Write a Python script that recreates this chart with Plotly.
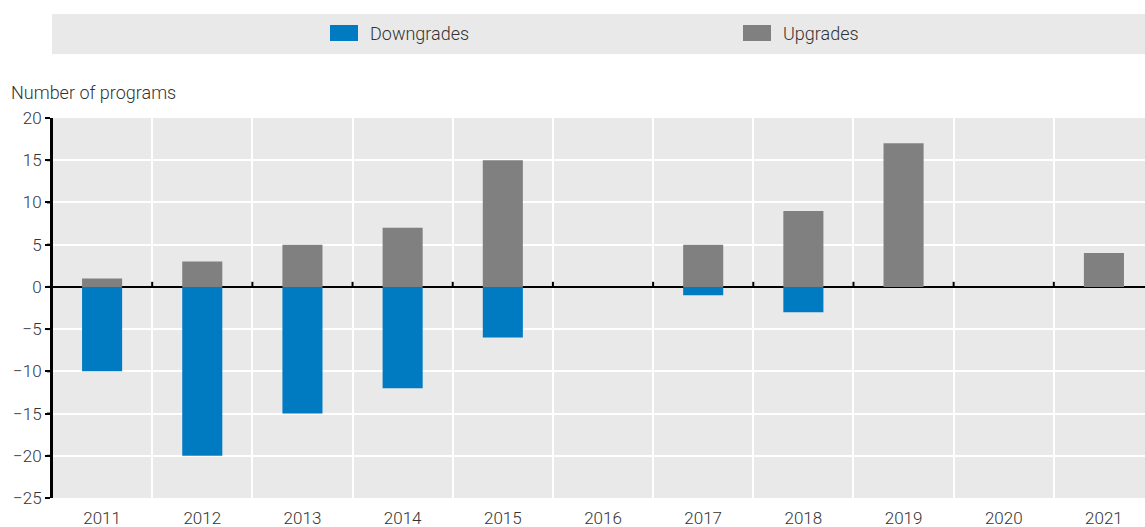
import plotly.graph_objects as go

years = [2011, 2012, 2013, 2014, 2015, 2016, 2017, 2018, 2019, 2020, 2021]
downgrades = [-10, -20, -15, -12, -6, 0, -1, -3, 0, 0, 0]
upgrades = [1, 3, 5, 7, 15, 0, 5, 9, 17, 0, 4]
y_ticks = [-25, -20, -15, -10, -5, 0, 5, 10, 15, 20]

FONT = "Roboto, Liberation Sans Narrow, sans-serif"
BLUE = "#007bc2"
GREY = "#808080"
BG = "#e9e9e9"
TXT = "#333333"
PLOT_W = 1093  # px width of plot area

fig = go.Figure()
fig.add_trace(go.Bar(x=years, y=downgrades, name="Downgrades", marker_color=BLUE,
                     marker_line_width=0, width=0.4, showlegend=False))
fig.add_trace(go.Bar(x=years, y=upgrades, name="Upgrades", marker_color=GREY,
                     marker_line_width=0, width=0.4, showlegend=False))

XR = [years[0] - 0.5, years[-1] + 0.41]

fig.update_layout(
    barmode="relative",
    width=1145, height=527,
    margin=dict(l=52, r=0, t=118, b=29),
    paper_bgcolor="white",
    plot_bgcolor=BG,
    font=dict(family=FONT, size=17, color=TXT, weight=300),
    xaxis=dict(range=XR, tickmode="linear", tick0=years[0], dtick=1, showgrid=False,
               ticks="", showline=False, zeroline=False,
               minor=dict(tickmode="linear", tick0=years[0] - 0.5, dtick=1, showgrid=True,
                          gridcolor="white", gridwidth=2, ticks=""),
               tickfont=dict(size=17, color=TXT, weight=300), ticklabelstandoff=8),
    yaxis=dict(range=[-25, 20], tickvals=y_ticks, showgrid=True, gridcolor="white",
               gridwidth=2, zeroline=True, zerolinecolor="black", zerolinewidth=2,
               showline=True, linecolor="black", linewidth=2, ticks="outside",
               ticklen=5, tickwidth=2, tickcolor="black", ticksuffix="\u2002",
               tickfont=dict(size=17, color=TXT, weight=300)),
    showlegend=False,
)

# left axis line and its tick marks (axis decoration)
fig.add_shape(type="line", xref="paper", yref="paper", x0=0, x1=0, y0=0, y1=1,
              line=dict(color="black", width=2))
for v in y_ticks:
    fig.add_shape(type="line", xref="paper", yref="y", x0=-5/PLOT_W, x1=0, y0=v, y1=v,
                  line=dict(color="black", width=2))
# small upward tick marks on the zero line at category boundaries
for yr in years[:-1]:
    fig.add_shape(type="line", xref="x", yref="y", x0=yr + 0.5, x1=yr + 0.5,
                  y0=0, y1=0.6, line=dict(color="black", width=2))

# legend box
fig.add_shape(type="rect", xref="paper", yref="paper", x0=0, x1=1,
              y0=(498-54)/380, y1=(498-14)/380, fillcolor=BG, line_width=0, layer="below")
for name, color, xs in [("Downgrades", BLUE, 330), ("Upgrades", GREY, 743)]:
    fig.add_shape(type="rect", xref="paper", yref="paper",
                  x0=(xs-52)/PLOT_W, x1=(xs+28-52)/PLOT_W,
                  y0=(498-41)/380, y1=(498-25)/380, fillcolor=color, line_width=0)
    fig.add_annotation(text=name, xref="paper", yref="paper", x=(xs+38-52)/PLOT_W,
                       y=(498-33)/380, xanchor="left", yanchor="middle", showarrow=False,
                       font=dict(size=18, color=TXT, weight=300))

fig.add_annotation(text="Number of programs", xref="paper", yref="paper",
                   x=-43/PLOT_W, y=(498-93)/380, xanchor="left", yanchor="middle",
                   showarrow=False, font=dict(size=18, color=TXT, weight=300))

fig.write_html("out.html", config={"displayModeBar": False},
               post_script="document.body.style.margin='0';")
